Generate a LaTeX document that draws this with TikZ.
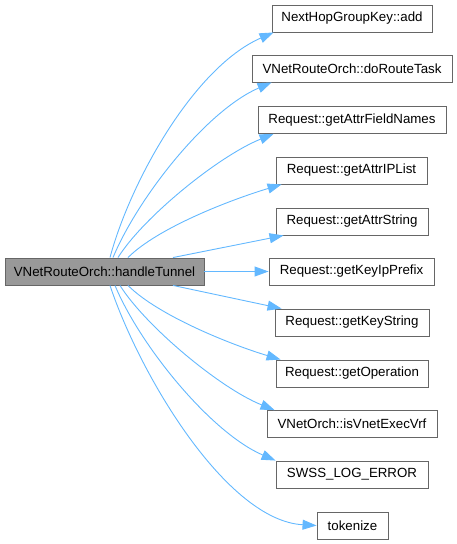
\documentclass[tikz,border=0pt]{standalone}
\usepackage{fontspec}
\setmainfont{Liberation Sans}
\usetikzlibrary{arrows.meta}
\definecolor{DoxEdge}{HTML}{63B8FF}
\definecolor{DoxBorder}{HTML}{666666}
\definecolor{DoxMain}{HTML}{999999}

\begin{document}
\begin{tikzpicture}[x=1pt, y=-1pt,
  every node/.style={font=\fontsize{13.3pt}{15pt}\selectfont},
  fn/.style={draw=DoxBorder, fill=#1, minimum height=27pt, inner sep=0pt,
    line width=0.9pt},
  fn/.default={white},
  arr/.style={-{Triangle[length=14pt, width=10pt]}, DoxEdge, line width=0.9pt}
]
  \useasboundingbox (0,0) rectangle (457,544);

  % caller
  \node[fn=DoxMain, minimum width=199pt] (handle) at (104.5,271.5) {VNetRouteOrch::handleTunnel};

  % callees
  \node[fn, minimum width=160pt] (add) at (352,18.5) {NextHopGroupKey::add};
  \node[fn, minimum width=200pt] (route) at (352,68.5) {VNetRouteOrch::doRouteTask};
  \node[fn, minimum width=188pt] (fields) at (352,120) {Request::getAttrFieldNames};
  \node[fn, minimum width=151pt] (iplist) at (351.5,170.5) {Request::getAttrIPList};
  \node[fn, minimum width=152pt] (attrstr) at (352,221.5) {Request::getAttrString};
  \node[fn, minimum width=165pt] (prefix) at (351.5,271.5) {Request::getKeyIpPrefix};
  \node[fn, minimum width=154pt] (keystr) at (352,322.5) {Request::getKeyString};
  \node[fn, minimum width=152pt] (oper) at (352,373.5) {Request::getOperation};
  \node[fn, minimum width=170pt] (vrf) at (352,424) {VNetOrch::isVnetExecVrf};
  \node[fn, minimum width=152pt] (swss) at (352,474.5) {SWSS\_LOG\_ERROR};
  \node[fn, minimum width=71pt] (token) at (352.5,525.5) {tokenize};

  % calls above
  \draw[arr] ([xshift=5.5pt]handle.north) .. controls +(20,-75) and +(-80,35) .. ([xshift=2pt]add.south west);
  \draw[arr] ([xshift=8.5pt]handle.north) .. controls +(25,-60) and +(-65,28) .. ([xshift=20pt]route.south west);
  \draw[arr] ([xshift=13.5pt]handle.north) .. controls +(25,-40) and +(-55,22) .. ([xshift=16pt]fields.south west);
  \draw[arr] ([xshift=23.5pt]handle.north) .. controls +(30,-30) and +(-50,15) .. ([xshift=6pt]iplist.south west);
  \draw[arr] ([xshift=68.5pt]handle.north) -- ([xshift=8pt]attrstr.south west);

  % straight call
  \draw[arr] (handle) -- (prefix);

  % calls below
  \draw[arr] ([xshift=68.5pt]handle.south) -- ([xshift=7pt]keystr.north west);
  \draw[arr] ([xshift=23.5pt]handle.south) .. controls +(30,30) and +(-50,-15) .. ([xshift=5pt]oper.north west);
  \draw[arr] ([xshift=15.5pt]handle.south) .. controls +(25,40) and +(-55,-22) .. ([xshift=8pt]vrf.north west);
  \draw[arr] ([xshift=10.5pt]handle.south) .. controls +(25,60) and +(-65,-28) .. ([xshift=0pt]swss.north west);
  \draw[arr] ([xshift=5.5pt]handle.south) .. controls +(30,90) and +(-90,-5) .. (token.west);
\end{tikzpicture}
\end{document}
